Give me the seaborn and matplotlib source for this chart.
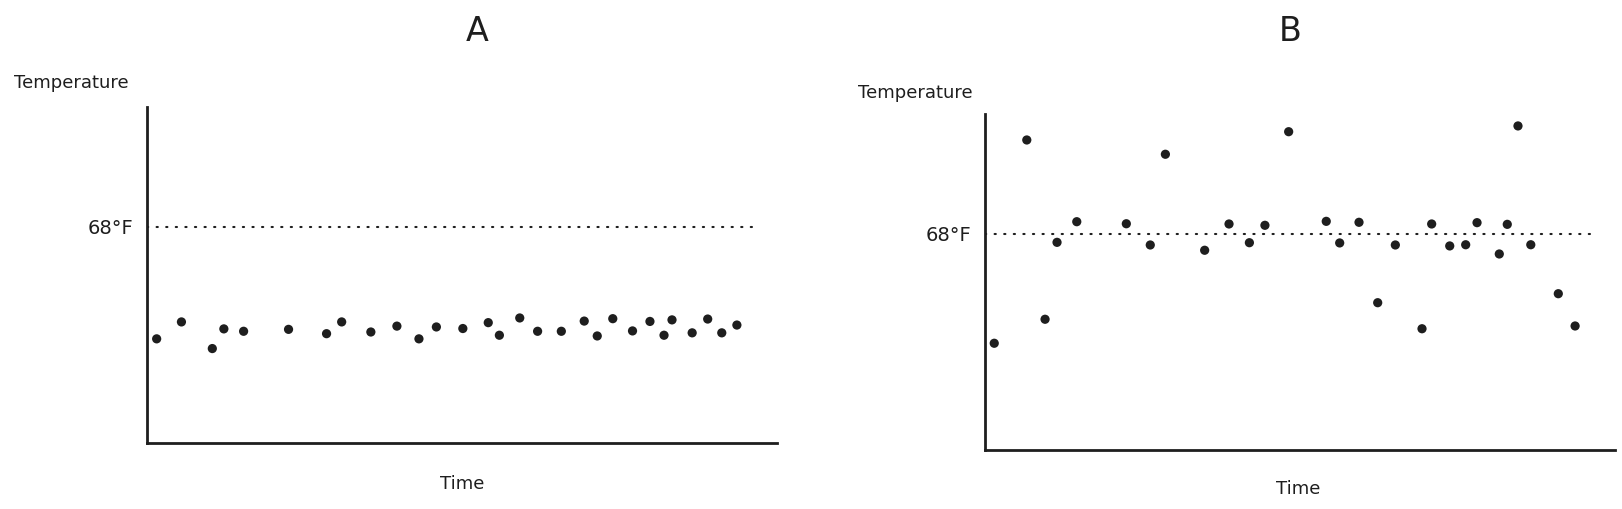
import matplotlib
matplotlib.use("Agg")
import matplotlib.pyplot as plt
import seaborn as sns
import pandas as pd

# ---- data ----
panel_titles = ["A", "B"]
threshold_f = 68
threshold_label = "68°F"
threshold_span = [0, 29]

time_a = [0.46, 1.64, 3.11, 3.66, 4.60, 6.74, 8.55, 9.27, 10.66, 11.90, 12.95, 13.78,
          15.04, 16.25, 16.78, 17.75, 18.60, 19.73, 20.82, 21.44, 22.18, 23.12, 23.95,
          24.62, 25.00, 25.96, 26.70, 27.37, 28.09]
temp_a = [58.68, 60.09, 57.87, 59.51, 59.31, 59.47, 59.11, 60.09, 59.25, 59.74, 58.68,
          59.67, 59.54, 60.03, 58.98, 60.42, 59.31, 59.31, 60.16, 58.92, 60.36, 59.34,
          60.13, 58.98, 60.26, 59.18, 60.33, 59.18, 59.83]

time_b = [0.44, 1.99, 2.86, 3.43, 4.37, 6.73, 7.87, 8.59, 10.46, 11.62, 12.59, 13.33,
          14.46, 16.25, 16.89, 17.81, 18.70, 19.54, 20.81, 21.27, 22.13, 22.89, 23.43,
          24.49, 24.87, 25.38, 25.99, 27.30, 28.10]
temp_b = [58.87, 75.81, 60.87, 67.28, 69.00, 68.83, 67.06, 74.62, 66.62, 68.81, 67.25,
          68.70, 76.50, 69.03, 67.23, 68.95, 62.25, 67.06, 60.08, 68.81, 66.98, 67.08,
          68.92, 66.31, 68.78, 76.98, 67.08, 63.00, 60.31]

x_label = "Time"
y_label = "Temperature"
time_range = (0, 30)
temp_range = (50, 78)

# ---- style ----
sns.set_theme(style="white")
plt.rcParams["font.family"] = ["DejaVu Sans"]
ink = "#1e1e1e"

fig = plt.figure(figsize=(16.22, 5.09), dpi=100)
W, H = 1622, 509
# axes boxes in pixels: left, right, bottom(y px), top(y px)
boxes = [(147, 777, 443, 107), (985, 1615, 449.7, 113.7)]
label_pos = [(-0.1206, 1.071), (-0.110, 1.0616)]
xlabel_pos = [(0.50, -0.095), (0.4976, -0.09)]
title_pos = [(0.524, 1.226), (0.484, 1.246)]
series = [(time_a, temp_a), (time_b, temp_b)]
th_spans = [[0, 29.0], [0, 28.8]]

for i in range(2):
    l, r, b, t = boxes[i]
    ax = fig.add_axes([l / W, (H - b) / H, (r - l) / W, (b - t) / H])
    df = pd.DataFrame({"time": series[i][0], "temp": series[i][1]})
    th = pd.DataFrame({"time": th_spans[i], "temp": [threshold_f, threshold_f]})
    sns.lineplot(data=th, x="time", y="temp", ax=ax, color=ink, linewidth=1.5,
                 linestyle=(0, (0.6, 4.0)), dash_capstyle="round")
    sns.scatterplot(data=df, x="time", y="temp", ax=ax, color=ink, s=44,
                    edgecolor="none", zorder=3)
    ax.set_xlim(*time_range)
    ax.set_ylim(*temp_range)
    ax.set_xticks([])
    ax.set_yticks([threshold_f])
    ax.set_yticklabels([threshold_label])
    ax.tick_params(axis="y", length=0, pad=10, labelsize=14, labelcolor=ink)
    for side in ["top", "right"]:
        ax.spines[side].set_visible(False)
    for side in ["left", "bottom"]:
        ax.spines[side].set_color(ink)
        ax.spines[side].set_linewidth(2.0)
    ax.set_ylabel(y_label, rotation=0, fontsize=13, color=ink, ha="center", va="center")
    ax.yaxis.set_label_coords(*label_pos[i])
    ax.set_xlabel(x_label, fontsize=13, color=ink, va="top")
    ax.xaxis.set_label_coords(*xlabel_pos[i])
    ax.text(title_pos[i][0], title_pos[i][1], panel_titles[i], transform=ax.transAxes,
            ha="center", va="center", fontsize=24, color=ink)
    ax.set_facecolor("white")

fig.savefig("out.png", dpi=100, facecolor="white")
